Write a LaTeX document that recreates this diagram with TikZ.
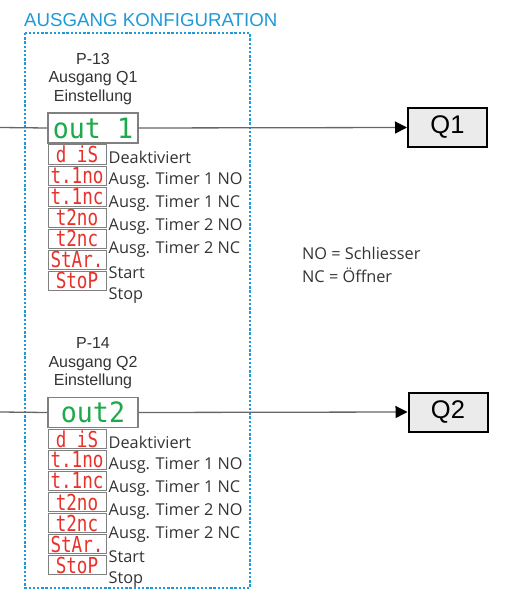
\documentclass[tikz,border=0pt]{standalone}
\usepackage{fontspec}
\setmainfont{Liberation Sans}
\newfontfamily\labelfont{Open Sans}
\newfontfamily\segfont[FakeStretch=0.8]{DejaVu Sans Mono}
\newfontfamily\dispfont[FakeStretch=0.95]{DejaVu Sans Mono}
\usetikzlibrary{arrows.meta,positioning}

\definecolor{cfgblue}{HTML}{1E9AD6}
\definecolor{seggreen}{HTML}{1DAA4A}
\definecolor{segred}{HTML}{E8312A}
\definecolor{framegray}{HTML}{808080}
\definecolor{txtgray}{HTML}{333333}

\begin{document}
\begin{tikzpicture}[x=1pt, y=-1pt,
    dispbox/.style={draw=framegray, line width=1.2pt, fill=white, minimum width=90pt, minimum height=30pt, inner sep=0pt, font=\dispfont\fontsize{28}{28}\selectfont, text=seggreen},
    codebox/.style={draw=framegray, line width=1pt, fill=white, minimum width=58pt, minimum height=19pt, inner sep=0pt, font=\segfont\fontsize{22}{22}\selectfont, text=segred},
    desc/.style={anchor=west, inner sep=0pt, font=\labelfont\fontsize{16.3}{18}\selectfont, text=txtgray},
    head/.style={align=center, inner sep=0pt, font=\fontsize{16}{18.5}\selectfont, text=txtgray},
    qbox/.style={draw=black, line width=2pt, fill=black!8, minimum width=79pt, minimum height=39pt, inner sep=0pt, font=\fontsize{25.5}{25.5}\selectfont},
    wire/.style={draw=black!60, line width=1.3pt},
    arr/.style={wire, -{Triangle[length=12pt, width=12pt, color=black]}}
]
\useasboundingbox (0,0) rectangle (509,596);

% frame and title
\draw[cfgblue, line width=2.6pt, dash pattern=on 2.4pt off 1.8pt] (25,33) rectangle (250,588);
\node[anchor=west, inner sep=0pt, font=\fontsize{18.7}{18.7}\selectfont, text=cfgblue] (title) at (24,20) {AUSGANG KONFIGURATION};

% output Q1
\node[head] (p13) at (93,79) {P-13\\Ausgang Q1\\Einstellung};
\node[dispbox] (out1) at (93,128) {out 1};
\foreach \code/\txt [count=\i from 0] in {d iS/Deaktiviert, t.1no/Ausg. Timer 1 NO, t.1nc/Ausg. Timer 1 NC, t2no/Ausg. Timer 2 NO, t2nc/Ausg. Timer 2 NC, StAr./Start, StoP/Stop}{
  \node[codebox] (a\i) at (77,154.5+21*\i) {\code};
  \node[desc] (la\i) at (108.5,157.5+23*\i) {\txt};
}
\node[qbox] (q1) at (447.5,127.5) {Q1};
\coordinate (in1) at (0,127.5);
\draw[wire] (in1) -- (out1.west);
\draw[arr] (out1.east) -- (q1.west);

% legend
\node[desc] (no) at (302,253) {NO = Schliesser};
\node[desc] (nc) at (302,275) {NC = Öffner};

% output Q2
\node[head] (p14) at (93,363.5) {P-14\\Ausgang Q2\\Einstellung};
\node[dispbox] (out2) at (93,412.5) {out2};
\foreach \code/\txt [count=\i from 0] in {d iS/Deaktiviert, t.1no/Ausg. Timer 1 NO, t.1nc/Ausg. Timer 1 NC, t2no/Ausg. Timer 2 NO, t2nc/Ausg. Timer 2 NC, StAr./Start, StoP/Stop}{
  \node[codebox] (b\i) at (77,439+21*\i) {\code};
  \node[desc] (lb\i) at (108.5,442+23*\i) {\txt};
}
\node[qbox] (q2) at (448,412) {Q2};
\coordinate (in2) at (0,412);
\draw[wire] (in2) -- (out2.west);
\draw[arr] (out2.east) -- (q2.west);
\end{tikzpicture}
\end{document}
